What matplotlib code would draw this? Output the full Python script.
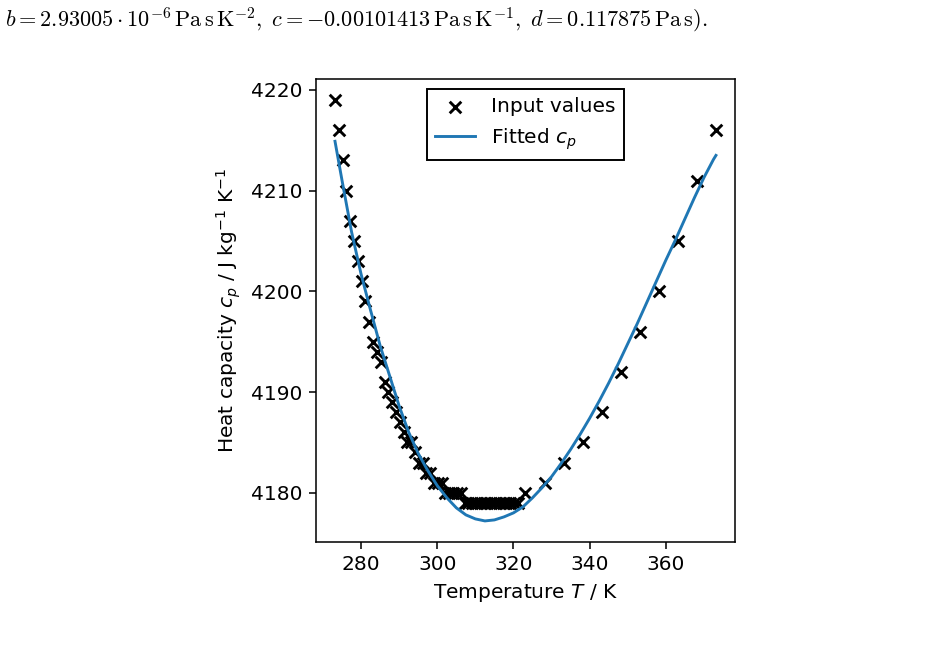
#Heat capacity of water with a fitted curve

import matplotlib
matplotlib.use("Agg")
import matplotlib.pyplot as plt

#input values (T in K, cp in J/kg/K)
temps = [273.15, 274.15, 275.15, 276.15, 277.15, 278.15, 279.15, 280.15, 281.15, 282.15,
         283.15, 284.15, 285.15, 286.15, 287.15, 288.15, 289.15, 290.15, 291.15, 292.15,
         293.15, 294.15, 295.15, 296.15, 297.15, 298.15, 299.15, 300.15, 301.15, 302.15,
         303.15, 304.15, 305.15, 306.15, 307.15, 308.15, 309.15, 310.15, 311.15, 312.15,
         313.15, 314.15, 315.15, 316.15, 317.15, 318.15, 319.15, 320.15, 321.15,
         323.15, 328.15, 333.15, 338.15, 343.15, 348.15, 353.15, 358.15, 363.15, 368.15, 373.15]
cp_values = [4219, 4216, 4213, 4210, 4207, 4205, 4203, 4201, 4199, 4197,
             4195, 4194, 4193, 4191, 4190, 4189, 4188, 4187, 4186, 4185,
             4185, 4184, 4183, 4183, 4182, 4182, 4181, 4181, 4181, 4180,
             4180, 4180, 4180, 4180, 4179, 4179, 4179, 4179, 4179, 4179,
             4179, 4179, 4179, 4179, 4179, 4179, 4179, 4179, 4179,
             4180, 4181, 4183, 4185, 4188, 4192, 4196, 4200, 4205, 4211, 4216]

#fitted curve
fit_temps = [273.15, 275, 277.5, 280, 282.5, 285, 287.5, 290, 292.5, 295, 297.5, 300,
             302.5, 305, 307.5, 310, 312.5, 315, 317.5, 320, 322.5, 325, 327.5, 330,
             332.5, 335, 337.5, 340, 342.5, 345, 347.5, 350, 352.5, 355, 357.5, 360,
             362.5, 365, 367.5, 370, 372.5, 373.15]
fit_cp = [4214.9, 4211.0, 4205.9, 4201.7, 4198.1, 4194.6, 4191.6, 4188.6, 4186.0, 4183.9,
          4182.2, 4180.7, 4179.5, 4178.5, 4177.8, 4177.4, 4177.2, 4177.3, 4177.6, 4178.0,
          4178.6, 4179.5, 4180.5, 4181.6, 4182.9, 4184.3, 4185.8, 4187.4, 4189.1, 4190.9,
          4192.8, 4194.8, 4196.8, 4198.9, 4201.0, 4203.1, 4205.1, 4207.2, 4209.3, 4211.3,
          4213.1, 4213.5]

plt.rcParams["mathtext.fontset"] = "dejavusans"
plt.rcParams["font.size"] = 10.45

fig = plt.figure(figsize=(944/139, 650/139), dpi=139)
ax = fig.add_axes([0.3347, 0.1662, 0.4439, 0.7123])
ax.scatter(temps, cp_values, marker="x", color="black", label="Input values")
ax.plot(fit_temps, fit_cp, color="C0", label="Fitted $c_p$")
ax.set_xlabel("Temperature $T$ / K")
ax.set_ylabel("Heat capacity $c_p$ / J kg$^{-1}$ K$^{-1}$")
ax.set_xticks([280, 300, 320, 340, 360])
ax.set_yticks([4180, 4190, 4200, 4210, 4220])
ax.legend(loc="upper center", fancybox=False, edgecolor="black", framealpha=1)

#line of document text above the figure
fig.text(0.005, 1 - 20/650,
         r"$b = 2.93005 \cdot 10^{-6}\,\mathrm{Pa\,s\,K^{-2}},\; c = -0.00101413\,\mathrm{Pa\,s\,K^{-1}},\; d = 0.117875\,\mathrm{Pa\,s}).$",
         fontsize=11.55, va="center", math_fontfamily="cm")

fig.savefig("out.png", dpi=139)
